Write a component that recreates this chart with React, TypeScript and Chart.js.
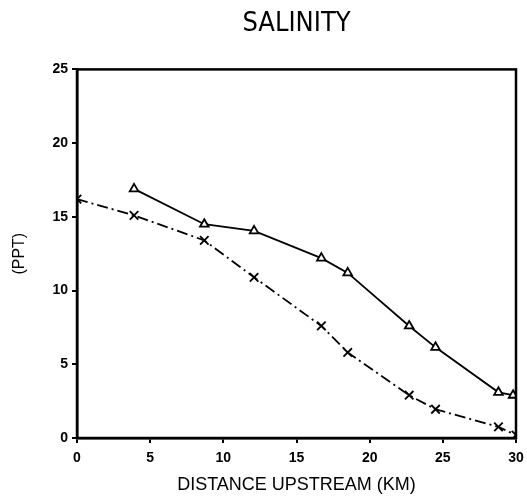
import React, { useEffect, useRef } from "react";
import { Chart, registerables } from "chart.js";

Chart.register(...registerables);

// Distance upstream (km)
const distanceTri = [3.9, 8.7, 12.1, 16.7, 18.5, 22.7, 24.5, 28.8, 29.8];
const salinityTri = [16.9, 14.5, 14.05, 12.2, 11.2, 7.6, 6.15, 3.1, 2.9];

const distanceX = [0, 3.9, 8.7, 12.1, 16.7, 18.5, 22.7, 24.5, 28.8, 30];
const salinityX = [16.2, 15.1, 13.4, 10.9, 7.6, 5.8, 2.9, 1.95, 0.75, 0.2];

const xTicks = [0, 5, 10, 15, 20, 25, 30];
const yTicks = [0, 5, 10, 15, 20, 25];

const titleText = "SALINITY";
const xTitle = "DISTANCE UPSTREAM (KM)";
const yTitle = "(PPT)";

const FONT = "'Liberation Sans', Arial, sans-serif";
const NARROW = "'Liberation Sans Narrow', 'DejaVu Sans Condensed', 'Liberation Sans', sans-serif";

const framePlugin = {
  id: "frame",
  afterDatasetsDraw(chart: any) {
    const { ctx, chartArea } = chart;
    ctx.save();
    ctx.strokeStyle = "#000";
    ctx.lineWidth = 2.5;
    ctx.strokeRect(chartArea.left, chartArea.top, chartArea.right - chartArea.left, chartArea.bottom - chartArea.top);
    ctx.restore();
  },
};

export default function App() {
  const ref = useRef<HTMLCanvasElement | null>(null);
  useEffect(() => {
    document.body.style.margin = "0";
    const toPts = (xs: number[], ys: number[]) => xs.map((x, i) => ({ x, y: ys[i] }));
    const chart = new Chart(ref.current!, {
      type: "scatter",
      data: {
        datasets: [
          {
            data: toPts(distanceTri, salinityTri),
            showLine: true,
            borderColor: "#000",
            backgroundColor: "rgba(0,0,0,0)",
            borderWidth: 1.8,
            pointStyle: "triangle",
            pointRadius: 5,
            pointBorderWidth: 1.8,
            pointBorderColor: "#000",
            pointBackgroundColor: "#fff",
          },
          {
            data: toPts(distanceX, salinityX),
            showLine: true,
            borderColor: "#000",
            backgroundColor: "rgba(0,0,0,0)",
            borderWidth: 1.8,
            borderDash: [11, 4, 2, 4],
            pointStyle: "crossRot",
            pointRadius: 6,
            pointBorderWidth: 1.8,
            pointBorderColor: "#000",
          },
        ],
      },
      options: {
        animation: false,
        responsive: false,
        layout: { padding: { left: 0, right: 11, top: 0, bottom: 0 } },
        plugins: {
          legend: { display: false },
          tooltip: { enabled: false },
          title: {
            display: true,
            fullSize: false,
            text: titleText,
            color: "#000",
            font: { family: NARROW, size: 27, weight: "normal" },
            padding: { top: 8, bottom: 29 },
          },
        },
        scales: {
          x: {
            type: "linear",
            min: 0,
            max: 30,
            afterBuildTicks: (s: any) => { s.ticks = xTicks.map((v) => ({ value: v })); },
            afterFit: (s: any) => { s.height = 58; s.paddingRight = 0; s.paddingLeft = 0; },
            grid: { display: true, drawOnChartArea: false, drawTicks: true, tickLength: 5, color: "#000", lineWidth: 2 },
            border: { display: true, color: "#000", width: 2.5 },
            ticks: { color: "#000", font: { family: FONT, size: 14, weight: "bold" }, padding: 7, maxRotation: 0 },
            title: { display: true, text: xTitle, color: "#000", font: { family: FONT, size: 18 }, padding: { top: 2, bottom: 0 } },
          },
          y: {
            type: "linear",
            min: 0,
            max: 25,
            afterBuildTicks: (s: any) => { s.ticks = yTicks.map((v) => ({ value: v })); },
            afterFit: (s: any) => { s.width = 77; s.paddingTop = 0; s.paddingBottom = 0; },
            grid: { display: true, drawOnChartArea: false, drawTicks: true, tickLength: 5, color: "#000", lineWidth: 2 },
            border: { display: true, color: "#000", width: 2.5 },
            ticks: { color: "#000", font: { family: FONT, size: 14, weight: "bold" }, padding: 4 },
            title: { display: true, text: yTitle, color: "#000", font: { family: FONT, size: 16 }, padding: { top: 10, bottom: 18 } },
          },
        },
      },
      plugins: [framePlugin],
    } as any);
    return () => chart.destroy();
  }, []);
  return <canvas ref={ref} width={527} height={496} style={{ display: "block" }} />;
}
